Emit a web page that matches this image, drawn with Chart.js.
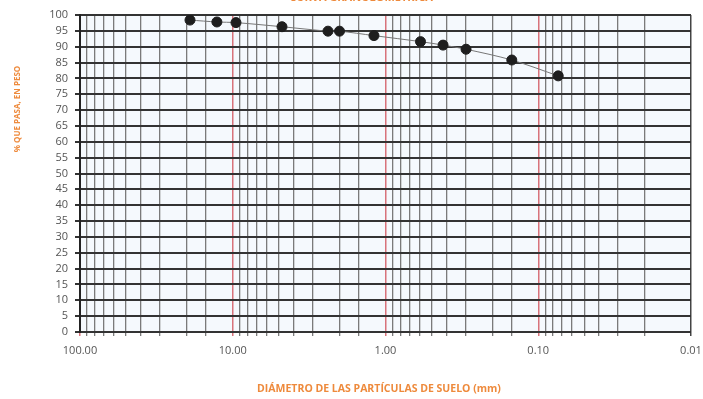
<!DOCTYPE html>
<html>
<head>
<meta charset="utf-8">
<script src="https://cdn.jsdelivr.net/npm/chart.js@4"></script>
<style>
  html, body { margin: 0; padding: 0; background: #fff; overflow: hidden; }
  #wrap { width: 703px; height: 399px; position: relative; }
</style>
</head>
<body>
<div id="wrap"><canvas id="granChart"></canvas></div>
<script>
// diametro de tamiz (mm) y % que pasa
const diametros = [19.05, 12.7, 9.525, 4.76, 2.38, 2.0, 1.19, 0.59, 0.42, 0.297, 0.149, 0.074];
const pasa = [98.4, 97.8, 97.6, 96.3, 94.9, 94.9, 93.5, 91.6, 90.5, 89.2, 85.8, 80.8];
const decadas = [100, 10, 1, 0.1, 0.01];
const titulo = 'CURVA GRANULOMÉTRICA';
const tituloX = 'DIÁMETRO DE LAS PARTÍCULAS DE SUELO (mm)';
const tituloY = '% QUE PASA, EN PESO';

function esDecada(v) {
    return decadas.some(d => Math.abs(Math.log10(v) - Math.log10(d)) < 1e-6);
}

const fondo = {
    id: 'fondo',
    beforeDraw(chart) {
        const a = chart.chartArea, ctx = chart.ctx;
        ctx.save();
        ctx.fillStyle = '#f5f9fd';
        ctx.fillRect(a.left, a.top, a.right - a.left, a.bottom - a.top);
        ctx.restore();
    },
    afterDraw(chart) {
        const ctx = chart.ctx;
        ctx.save();
        ctx.fillStyle = '#ee8a3c';
        ctx.font = 'bold 11px "Open Sans", sans-serif';
        ctx.textAlign = 'center';
        ctx.textBaseline = 'alphabetic';
        ctx.fillText(titulo, 361, 1);
        ctx.font = 'bold 10.5px "Open Sans", sans-serif';
        ctx.textBaseline = 'middle';
        ctx.fillText(tituloX, 379, 389);
        ctx.font = 'bold 8px "Open Sans", sans-serif';
        ctx.translate(18, 109);
        ctx.rotate(-Math.PI / 2);
        ctx.fillText(tituloY, 0, 0);
        ctx.restore();
    }
};

const ctx = document.getElementById('granChart');

new Chart(ctx, {
    type: 'line',
    data: {
        datasets: [{
            label: 'Curva',
            data: diametros.map((d, i) => ({ x: d, y: pasa[i] })),
            borderColor: '#777',
            borderWidth: 1,
            tension: 0.3,
            pointRadius: 5,
            pointBackgroundColor: '#1e1e1e',
            pointBorderColor: '#1e1e1e',
            fill: false
        }]
    },
    options: {
        responsive: true,
        maintainAspectRatio: false,
        animation: false,
        layout: { padding: { top: 15, right: 12, bottom: 0, left: 0 } },
        plugins: {
            legend: { display: false },
            tooltip: { enabled: false }
        },
        scales: {
            x: {
                type: 'logarithmic',
                reverse: true,
                min: 0.01,
                max: 100,
                afterFit(scale) {
                    scale.height = 67;
                    scale.paddingRight = 0;
                    scale.paddingLeft = 0;
                },
                border: { display: false },
                grid: {
                    color: c => {
                        if (Math.abs(c.tick.value - 0.01) < 1e-9) return '#444';
                        return esDecada(c.tick.value) ? '#d8737b' : '#7a7a7a';
                    },
                    lineWidth: c => esDecada(c.tick.value) ? 1.5 : 1.3,
                    tickLength: 4
                },
                ticks: {
                    autoSkip: false,
                    maxRotation: 0,
                    padding: 8,
                    color: '#555',
                    font: { family: '"Open Sans", sans-serif', size: 11 },
                    callback: v => esDecada(v) ? Number(v).toFixed(2) : ''
                }
            },
            y: {
                min: 0,
                max: 100,
                afterFit(scale) { scale.width = 80; },
                border: { color: '#222', width: 2 },
                grid: { color: '#333', lineWidth: 2, tickLength: 5 },
                ticks: {
                    stepSize: 5,
                    autoSkip: false,
                    padding: 7,
                    color: '#555',
                    font: { family: '"Open Sans", sans-serif', size: 11 }
                }
            }
        }
    },
    plugins: [fondo]
});
</script>
</body>
</html>
